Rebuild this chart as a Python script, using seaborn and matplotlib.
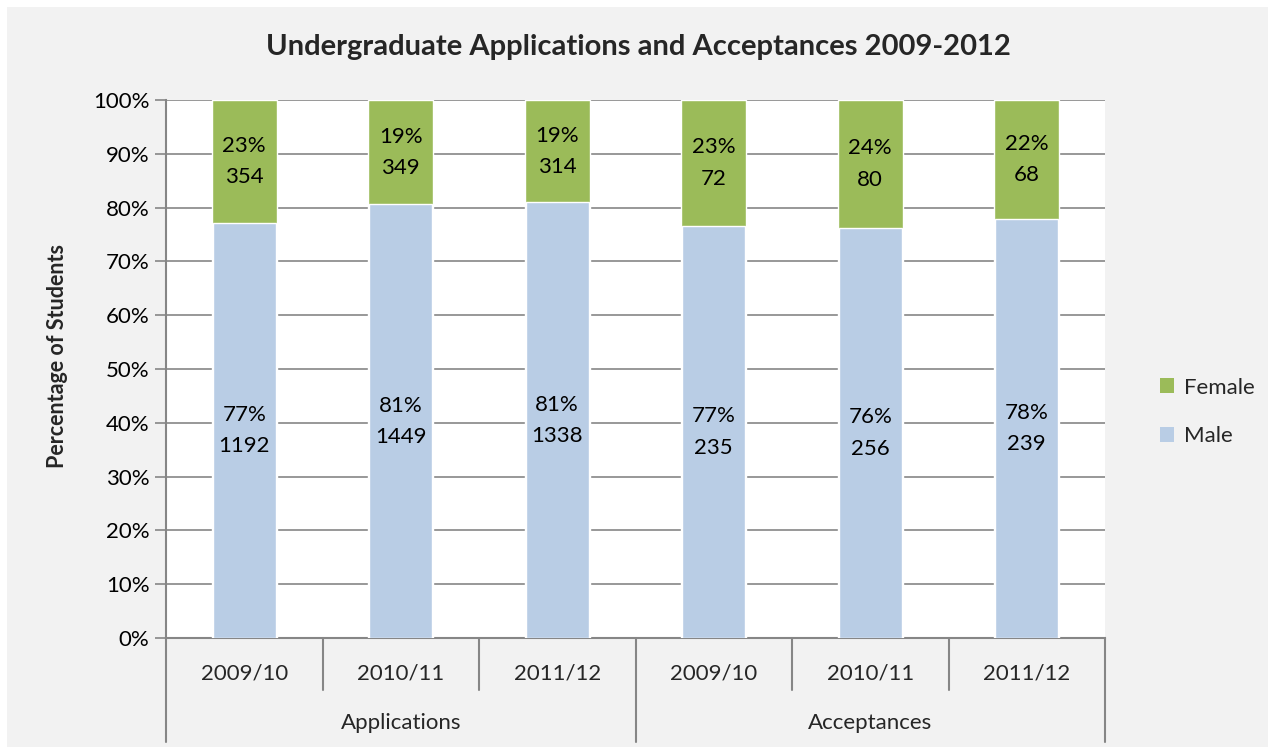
import matplotlib
matplotlib.use("Agg")
import matplotlib.pyplot as plt
import matplotlib.transforms as mtransforms
from matplotlib.patches import Rectangle, Patch
import seaborn as sns
import pandas as pd
import numpy as np

groups = ["Applications", "Applications", "Applications",
          "Acceptances", "Acceptances", "Acceptances"]
years = ["2009/10", "2010/11", "2011/12", "2009/10", "2010/11", "2011/12"]
male_counts = [1192, 1449, 1338, 235, 256, 239]
female_counts = [354, 349, 314, 72, 80, 68]
male_pct_labels = ["77%", "81%", "81%", "77%", "76%", "78%"]
female_pct_labels = ["23%", "19%", "19%", "23%", "24%", "22%"]
yticks = [0, 0.1, 0.2, 0.3, 0.4, 0.5, 0.6, 0.7, 0.8, 0.9, 1.0]

GREEN = "#9bbb59"
BLUE = "#b9cde5"
GRID = "#868686"
BG = "#f2f2f2"
FS = 16

sns.set_theme(style="white")
plt.rcParams['font.family'] = ['Lato', 'DejaVu Sans']

keys = [f"{g} {y}" for g, y in zip(groups, years)]
totals = np.array(male_counts) + np.array(female_counts)
df = pd.DataFrame({
    "key": keys,
    "male": np.array(male_counts) / totals,
    "total": totals / totals,
})

fig = plt.figure(figsize=(12.68, 7.47), dpi=100)
fig.patch.set_facecolor("white")
fig.patches.append(Rectangle((7 / 1268, 0), 1 - 7 / 1268, 1 - 7 / 747,
                             transform=fig.transFigure, facecolor=BG,
                             edgecolor="none", zorder=-10))
ax = fig.add_axes([166 / 1268, 1 - 638 / 747, (1105 - 166) / 1268, (638 - 100) / 747])
ax.set_facecolor("white")

sns.barplot(data=df, x="key", y="total", color=GREEN, width=0.415,
            saturation=1, ax=ax, zorder=3, order=keys)
sns.barplot(data=df, x="key", y="male", color=BLUE, width=0.405,
            saturation=1, ax=ax, zorder=4, order=keys)

ax.set_xlim(-0.5, len(keys) - 0.5)
ax.set_ylim(0, 1)
ax.set_yticks(yticks)
ax.set_yticklabels([f"{int(round(t * 100))}%" for t in yticks], fontsize=FS, color="#000000")
ax.yaxis.grid(True, color=GRID, linewidth=1.2, zorder=0)
ax.set_axisbelow(True)
ax.tick_params(axis="y", length=8, width=1.2, color=GRID, pad=4, left=True)
ax.set_xticks([])
ax.set_xlabel("")
ax.set_ylabel("Percentage of Students", fontsize=15.5, fontweight="bold")
ax.yaxis.set_label_coords(-(166 - 68) / 939, (638 - 356) / 538)
for s in ["top", "right"]:
    ax.spines[s].set_visible(False)
ax.spines["left"].set_color(GRID)
ax.spines["left"].set_linewidth(1.5)
ax.spines["bottom"].set_color(GRID)
ax.spines["bottom"].set_linewidth(1.5)

# data labels
for i in range(len(keys)):
    m = df["male"].iloc[i]
    ax.text(i, m / 2, f"{male_pct_labels[i]}\n{male_counts[i]}", ha="center", va="center",
            fontsize=FS, linespacing=1.7, zorder=6, color="#000000")
    ax.text(i, m + (1 - m) / 2, f"{female_pct_labels[i]}\n{female_counts[i]}", ha="center",
            va="center", fontsize=FS, linespacing=1.7, zorder=6, color="#000000")

# category axis
trans = mtransforms.blended_transform_factory(ax.transData, ax.transAxes)
short_y = -(690 - 638) / 538
long_y = -(742 - 638) / 538
for b in np.arange(-0.5, len(keys), 1.0):
    is_long = (b == -0.5) or (b == len(keys) - 0.5) or (b == 2.5)
    ax.plot([b, b], [0, long_y if is_long else short_y], transform=trans, color=GRID,
            linewidth=1.5, clip_on=False, zorder=5)
for i, yr in enumerate(years):
    ax.text(i, -(673 - 638) / 538, yr, transform=trans, ha="center", va="center", fontsize=FS)
ax.text(1, -(723 - 638) / 538, groups[0], transform=trans, ha="center", va="center", fontsize=FS)
ax.text(4, -(723 - 638) / 538, groups[3], transform=trans, ha="center", va="center", fontsize=FS)

fig.text(638 / 1268, 1 - 47 / 747, "Undergraduate Applications and Acceptances 2009-2012",
         ha="center", va="center", fontsize=21, fontweight="bold")

handles = [Patch(facecolor=GREEN, edgecolor="none", label="Female"),
           Patch(facecolor=BLUE, edgecolor="none", label="Male")]
fig.legend(handles=handles, loc="center left", bbox_to_anchor=(1140 / 1268, 1 - 412 / 747),
           frameon=False, fontsize=FS, handlelength=0.65, handleheight=0.65,
           handletextpad=0.45, labelspacing=1.3)

fig.savefig("out.png", dpi=100, facecolor=fig.get_facecolor())
